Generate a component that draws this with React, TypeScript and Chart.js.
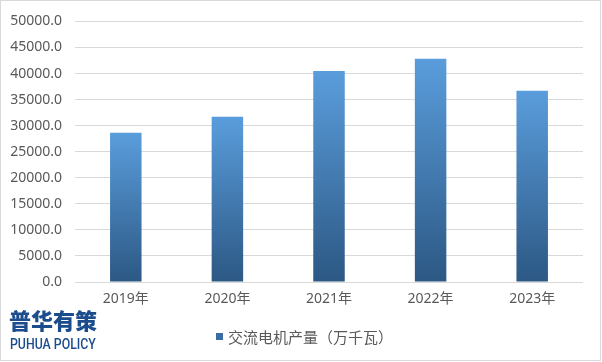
import { useEffect, useRef } from "react";
import { Chart, registerables } from "chart.js";

Chart.register(...registerables);

// Annual AC motor output, 10k kW
const years = ["2019年", "2020年", "2021年", "2022年", "2023年"];
const output = [28650, 31700, 40500, 42850, 36700];
const seriesName = "交流电机产量（万千瓦）";
const yMin = 0;
const yMax = 50000;
const yStep = 5000;

const TEXT = "#595959";
const GRID = "#D9D9D9";
const BAR_TOP = "#5A9DDC";
const BAR_BOTTOM = "#2C5884";
const LABEL_FONT = "'Noto Sans', 'Noto Sans CJK SC', sans-serif";

export default function App() {
  const canvasRef = useRef<HTMLCanvasElement | null>(null);

  useEffect(() => {
    const canvas = canvasRef.current;
    if (!canvas) return;

    const chart = new Chart(canvas, {
      type: "bar",
      data: {
        labels: years,
        datasets: [
          {
            label: seriesName,
            data: output,
            barPercentage: 0.31,
            categoryPercentage: 1,
            backgroundColor: (ctx: any) => {
              const c = ctx.chart;
              const yScale = c.scales && c.scales.y;
              if (!yScale || ctx.dataIndex === undefined) return BAR_TOP;
              const v = output[ctx.dataIndex];
              const top = yScale.getPixelForValue(v);
              const base = yScale.getPixelForValue(0);
              if (!isFinite(top) || !isFinite(base) || top === base) return BAR_TOP;
              const g = c.ctx.createLinearGradient(0, top, 0, base);
              g.addColorStop(0, BAR_TOP);
              g.addColorStop(1, BAR_BOTTOM);
              return g;
            },
            borderWidth: 0,
          },
        ],
      },
      options: {
        animation: false,
        responsive: false,
        maintainAspectRatio: false,
        layout: { padding: { top: 19, right: 19, left: 0, bottom: 0 } },
        plugins: {
          legend: { display: false },
          tooltip: { enabled: false },
        },
        scales: {
          x: {
            grid: { display: false, drawTicks: false },
            border: { display: false },
            ticks: {
              color: TEXT,
              font: { family: LABEL_FONT, size: 14 },
              padding: 9,
              maxRotation: 0,
            },
            afterFit: (s: any) => {
              s.height = 80;
            },
          },
          y: {
            min: yMin,
            max: yMax,
            grid: { color: GRID, lineWidth: 1, drawTicks: false },
            border: { display: false },
            ticks: {
              stepSize: yStep,
              color: TEXT,
              font: { family: LABEL_FONT, size: 14 },
              padding: 13,
              callback: (v: any) => Number(v).toFixed(1),
            },
            afterFit: (s: any) => {
              s.width = 75;
            },
          },
        },
      },
    });

    return () => chart.destroy();
  }, []);

  return (
    <div
      style={{
        position: "fixed",
        left: 0,
        top: 0,
        width: 602,
        height: 362,
        background: "#fff",
        overflow: "hidden",
      }}
    >
      <canvas ref={canvasRef} width={602} height={362} style={{ display: "block" }} />
      <div
        style={{
          position: "absolute",
          left: 0,
          top: 0,
          width: 601,
          height: 361,
          border: "1px solid #D9D9D9",
          boxSizing: "border-box",
          pointerEvents: "none",
        }}
      />
      {/* legend */}
      <div
        style={{
          position: "absolute",
          left: 216,
          top: 326,
          height: 20,
          display: "flex",
          alignItems: "center",
          fontFamily: "'Noto Sans CJK SC', sans-serif",
          fontSize: 15,
          color: TEXT,
          whiteSpace: "nowrap",
        }}
      >
        <span
          style={{
            display: "inline-block",
            width: 7,
            height: 7,
            background: "#3A6CA3",
            marginRight: 5,
          }}
        />
        <span>{seriesName}</span>
      </div>
      {/* brand mark */}
      <div
        style={{
          position: "absolute",
          left: 9,
          top: 304,
          fontFamily: "'Noto Sans CJK SC', sans-serif",
          fontWeight: 900,
          fontSize: 22,
          lineHeight: "30px",
          color: "#1B4C8C",
          whiteSpace: "nowrap",
        }}
      >
        普华有策
      </div>
      <div
        style={{
          position: "absolute",
          left: 10,
          top: 335,
          fontFamily: "Roboto, sans-serif",
          fontWeight: 500,
          fontSize: 14,
          lineHeight: "18px",
          color: "#1B4C8C",
          whiteSpace: "nowrap",
          transform: "scaleX(0.88)",
          transformOrigin: "left top",
        }}
      >
        PUHUA POLICY
      </div>
    </div>
  );
}
